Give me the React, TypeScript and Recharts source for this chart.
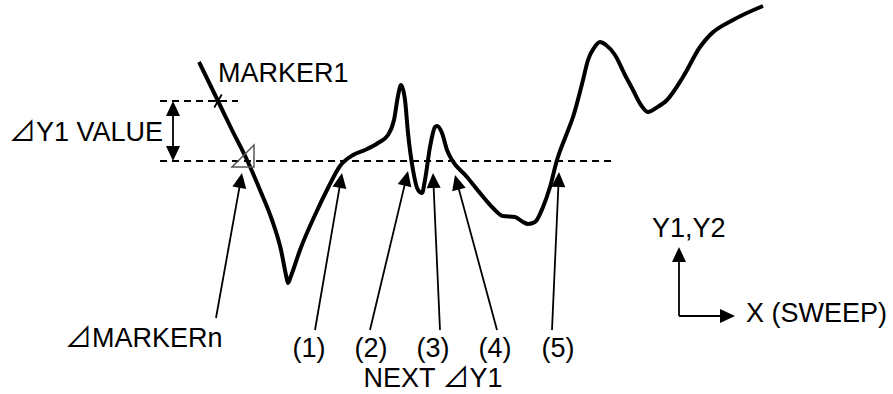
import React from 'react';
import { ComposedChart, Line, XAxis, YAxis, Scatter, ReferenceLine } from 'recharts';

const W = 893;
const H = 394;

// Y1 trace over the sweep (x: sweep position, y: level, axis drawn downward-positive)
const sweepX = [199, 218, 232, 247, 260, 272, 281, 286, 288, 291, 300, 315, 328, 340, 353, 365, 378, 388, 394, 398, 401, 405, 408, 413, 418, 422, 425, 430, 435, 437, 442, 447, 452, 467, 480, 493, 503, 515, 523, 528, 535, 543, 550, 557, 567, 573, 583, 588, 594, 600, 606, 615, 625, 633, 641, 648, 656, 667, 683, 700, 710, 733, 763];
const levelY = [62, 101, 130, 160, 190, 220, 250, 275, 283, 276, 250, 215, 188, 166, 155, 150, 143, 135, 120, 96, 85, 100, 133, 170, 190, 193, 180, 147, 127, 126, 133, 150, 160, 177, 193, 208, 216, 217, 222, 224, 222, 207, 187, 160, 133, 117, 80, 60, 48, 42, 45, 55, 75, 90, 105, 112, 108, 100, 77, 47, 35, 20, 6];

// reference levels
const markerLevel = 101;
const deltaLevel = 161;
const markerX = 218;
const deltaMarkerX = 247;

// pointer arrows: tail -> tip
const pointerTailX = [216, 315, 370, 440, 497, 552];
const pointerTailY = [318, 330, 330, 330, 330, 330];
const pointerTipX = [242, 342, 408, 433, 455, 559];
const pointerTipY = [173, 173, 171, 173, 175, 172];

// labels
const labelText = ['MARKER1', '⊿Y1 VALUE', '⊿MARKERn', '(1)', '(2)', '(3)', '(4)', '(5)', 'NEXT ⊿Y1', 'Y1,Y2', 'X (SWEEP)'];
const labelX = [218, 9, 65, 309, 371, 433, 495, 558, 433, 652, 746];
const labelY = [82, 141, 347, 357, 357, 357, 357, 357, 387, 237, 322];
const labelAnchor = ['start', 'start', 'start', 'middle', 'middle', 'middle', 'middle', 'middle', 'middle', 'start', 'start'];

// axis indicator
const originX = 679;
const originY = 316;
const axisUpTipY = 247;
const axisRightTipX = 735;

const HEAD_L = 15;
const HEAD_W = 14;

const traceData = sweepX.map((x, i) => ({ x, y: levelY[i] }));

type Arrow = { x0: number; y0: number; x: number; y: number };
const arrows: Arrow[] = [
  ...pointerTipX.map((x, i) => ({ x0: pointerTailX[i], y0: pointerTailY[i], x, y: pointerTipY[i] })),
  { x0: 173, y0: 131, x: 173, y: markerLevel },
  { x0: 173, y0: 131, x: 173, y: deltaLevel },
  { x0: originX, y0: originY, x: originX, y: axisUpTipY },
  { x0: originX, y0: originY, x: axisRightTipX, y: originY },
];

const headData = arrows.map((a) => ({ x: a.x, y: a.y, x0: a.x0, y0: a.y0 }));
const shaftSegs = arrows.map((a) => {
  const dx = a.x - a.x0;
  const dy = a.y - a.y0;
  const len = Math.sqrt(dx * dx + dy * dy);
  return { x0: a.x0, y0: a.y0, x1: a.x - (dx / len) * (HEAD_L - 2), y1: a.y - (dy / len) * (HEAD_L - 2) };
});

const labelData = labelText.map((t, i) => ({ x: labelX[i], y: labelY[i], t, a: labelAnchor[i] }));

const FONT = '"Liberation Sans", Arial, "Noto Sans CJK JP", sans-serif';

const HeadShape = (props: any) => {
  const { cx, cy, payload } = props;
  const dx = payload.x - payload.x0;
  const dy = payload.y - payload.y0;
  const len = Math.sqrt(dx * dx + dy * dy) || 1;
  const ux = dx / len;
  const uy = dy / len;
  const bx = cx - ux * HEAD_L;
  const by = cy - uy * HEAD_L;
  const px = -uy * (HEAD_W / 2);
  const py = ux * (HEAD_W / 2);
  const pts = `${cx},${cy} ${bx + px},${by + py} ${bx - px},${by - py}`;
  return <polygon points={pts} fill="#000" stroke="none" />;
};

const LabelShape = (props: any) => {
  const { cx, cy, payload } = props;
  return (
    <text x={cx} y={cy} textAnchor={payload.a} fontFamily={FONT} fontSize={27} fill="#000">
      {payload.t}
    </text>
  );
};

const StarShape = (props: any) => {
  const { cx, cy } = props;
  const r = 7.5;
  const lines = [0, 60, 120].map((deg) => {
    const rad = (deg * Math.PI) / 180;
    return (
      <line key={deg} x1={cx - r * Math.cos(rad)} y1={cy - r * Math.sin(rad)} x2={cx + r * Math.cos(rad)} y2={cy + r * Math.sin(rad)} stroke="#000" strokeWidth={1.8} />
    );
  });
  return <g>{lines}</g>;
};

const TriShape = (props: any) => {
  const { cx, cy } = props;
  const pts = `${cx - 15},${cy + 6} ${cx + 7},${cy - 16} ${cx + 7},${cy + 6}`;
  return <polygon points={pts} fill="none" stroke="#555" strokeWidth={1.5} />;
};

export default function App() {
  return (
    <div style={{ position: 'absolute', left: 0, top: 0, width: W, height: H, background: '#fff' }}>
      <ComposedChart width={W} height={H} margin={{ top: 0, right: 0, bottom: 0, left: 0 }}>
        <XAxis type="number" dataKey="x" domain={[0, W]} hide allowDataOverflow />
        <YAxis type="number" dataKey="y" domain={[0, H]} reversed hide allowDataOverflow />
        <ReferenceLine segment={[{ x: 160, y: markerLevel }, { x: 238, y: markerLevel }]} stroke="#000" strokeWidth={2} strokeDasharray="7 5" ifOverflow="visible" />
        <ReferenceLine segment={[{ x: 160, y: deltaLevel }, { x: 615, y: deltaLevel }]} stroke="#000" strokeWidth={2} strokeDasharray="7 5" ifOverflow="visible" />
        {shaftSegs.map((s, i) => (
          <ReferenceLine key={i} segment={[{ x: s.x0, y: s.y0 }, { x: s.x1, y: s.y1 }]} stroke="#000" strokeWidth={1.8} ifOverflow="visible" />
        ))}
        <Line data={traceData} dataKey="y" type="monotone" stroke="#000" strokeWidth={4} dot={false} isAnimationActive={false} strokeLinejoin="round" strokeLinecap="butt" />
        <Scatter data={[{ x: markerX, y: markerLevel }]} dataKey="y" shape={StarShape} isAnimationActive={false} />
        <Scatter data={[{ x: deltaMarkerX, y: deltaLevel }]} dataKey="y" shape={TriShape} isAnimationActive={false} />
        <Scatter data={headData} dataKey="y" shape={HeadShape} isAnimationActive={false} />
        <Scatter data={labelData} dataKey="y" shape={LabelShape} isAnimationActive={false} />
      </ComposedChart>
    </div>
  );
}
